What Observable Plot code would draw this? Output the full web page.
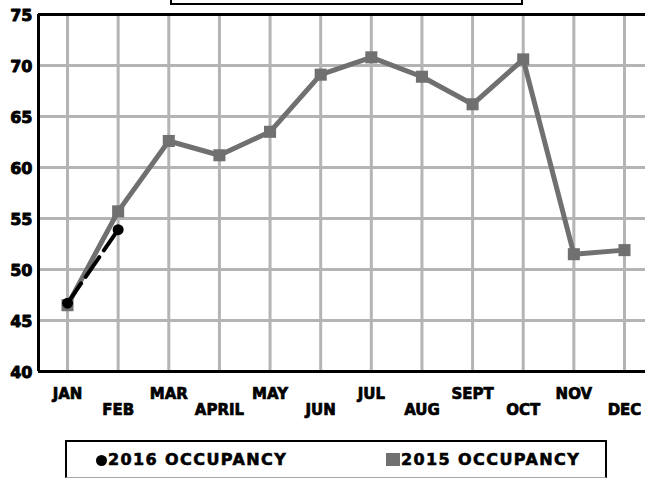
<!DOCTYPE html>
<html><head><meta charset="utf-8">
<script src="https://cdn.jsdelivr.net/npm/d3@7"></script>
<script src="https://cdn.jsdelivr.net/npm/@observablehq/plot@0.6"></script>
<style>
body{margin:0;background:#fff;font-family:"DejaVu Sans",sans-serif;}
#wrap{position:relative;width:645px;height:479px;overflow:hidden;}
#titlebox{position:absolute;left:170px;top:-26px;width:353px;height:31px;border:2px solid #000;box-sizing:border-box;}
#chart{position:absolute;left:0;top:0;}
#legend{position:absolute;left:65px;top:440px;width:542px;height:38px;border:2px solid #000;border-bottom:1px solid #aaa;box-sizing:border-box;font-weight:bold;font-size:16px;letter-spacing:1.4px;-webkit-text-stroke:0.6px #000;}
.item{position:absolute;top:9px;line-height:18px;white-space:nowrap;}
.sw{display:inline-block;vertical-align:-1px;margin-right:1px;}
</style></head>
<body><div id="wrap"><div id="titlebox"></div><div id="chart"></div>
<div id="legend">
<div class="item" style="left:29px"><span class="sw" style="width:11px;height:11px;border-radius:50%;background:#000"></span>2016 OCCUPANCY</div>
<div class="item" style="left:319px"><span class="sw" style="width:14px;height:13px;background:#707070;vertical-align:-1px"></span>2015 OCCUPANCY</div>
</div></div>
<script>
const months = ["JAN","FEB","MAR","APRIL","MAY","JUN","JUL","AUG","SEPT","OCT","NOV","DEC"];
const occ2015 = [46.5,55.7,62.6,61.2,63.5,69.1,70.8,68.9,66.2,70.6,51.5,51.9];
const occ2016 = [46.7,53.9];
const yTicks = [40,45,50,55,60,65,70,75];

const d15 = months.map((m,i)=>({i, m, v: occ2015[i]}));
const d16 = occ2016.map((v,i)=>({i, m: months[i], v}));
const idx = months.map((m,i)=>i);
const font = "'DejaVu Sans', sans-serif";

const plot = Plot.plot({
  width: 645, height: 425,
  marginLeft: 38, marginRight: 0, marginTop: 14, marginBottom: 54,
  x: {type: "linear", domain: [-0.573, 11.415], axis: null},
  y: {domain: [40, 75], axis: null},
  style: {fontFamily: font, overflow: "visible"},
  marks: [
    Plot.ruleX(idx, {x: d => d, stroke: "#b4b4b4", strokeWidth: 3}),
    Plot.ruleY(yTicks, {y: d => d, stroke: "#b4b4b4", strokeWidth: 3}),
    Plot.ruleX([-0.573], {stroke: "#000", strokeWidth: 3}),
    Plot.ruleY([40, 75], {stroke: "#000", strokeWidth: 3}),
    Plot.text(yTicks, {x: -0.573, y: d => d, text: d => String(d), textAnchor: "end", dx: -6, dy: 1, fontSize: 16, fontWeight: 700, fill: "#000", stroke: "#000", strokeWidth: 0.9}),
    Plot.text(idx.filter(i => i % 2 === 0), {x: d => d, text: d => months[d], frameAnchor: "bottom", dy: 27, fontSize: 15, fontWeight: 700, fill: "#000", stroke: "#000", strokeWidth: 0.7}),
    Plot.text(idx.filter(i => i % 2 === 1), {x: d => d, text: d => months[d], frameAnchor: "bottom", dy: 43, fontSize: 15, fontWeight: 700, fill: "#000", stroke: "#000", strokeWidth: 0.7}),
    Plot.line(d15, {x: "i", y: "v", stroke: "#707070", strokeWidth: 5}),
    Plot.dot(d15, {x: "i", y: "v", symbol: "square", r: 6.8, fill: "#707070"}),
    Plot.line(d16, {x: "i", y: "v", stroke: "#000", strokeWidth: 4, strokeDasharray: "24,8"}),
    Plot.dot(d16, {x: "i", y: "v", r: 5.5, fill: "#000"})
  ]
});
document.getElementById("chart").appendChild(plot);
</script></body></html>
